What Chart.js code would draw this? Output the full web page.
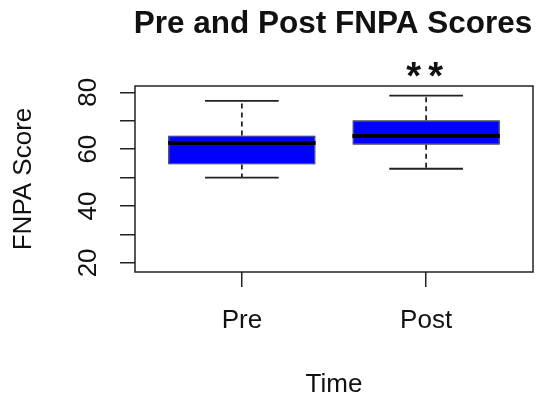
<!DOCTYPE html>
<html>
<head>
<meta charset="utf-8">
<script src="https://cdn.jsdelivr.net/npm/chart.js@4.4.1/dist/chart.umd.min.js"></script>
<style>
  html, body { margin: 0; padding: 0; background: #fff; }
</style>
</head>
<body>
<canvas id="boxChart" width="540" height="400"></canvas>
<script>
// values
const categories = ["Pre", "Post"];
const whiskerLow = [50.0, 53.1];
const lowerQuartile = [54.6, 61.5];
const medians = [62.2, 64.6];
const upperQuartile = [64.8, 70.2];
const whiskerHigh = [77.0, 78.8];
const yTickLabels = [20, 40, 60, 80];
const significance = ["", "**"];

const FONT = "'Liberation Sans', Arial, sans-serif";

// whiskers, caps, medians, frame, title and the ** mark
const boxParts = {
  id: "boxParts",
  afterDatasetsDraw(chart) {
    const { ctx, scales: { x, y } } = chart;
    ctx.save();
    categories.forEach((c, i) => {
      const pos = i + 1;
      const cx = x.getPixelForValue(pos);
      const capL = x.getPixelForValue(pos - 0.2);
      const capR = x.getPixelForValue(pos + 0.2);
      const boxL = x.getPixelForValue(pos - 0.4);
      const boxR = x.getPixelForValue(pos + 0.4);

      // dashed whiskers
      ctx.strokeStyle = "#222";
      ctx.lineWidth = 1.8;
      ctx.setLineDash([5, 4]);
      ctx.beginPath();
      ctx.moveTo(cx, y.getPixelForValue(upperQuartile[i]));
      ctx.lineTo(cx, y.getPixelForValue(whiskerHigh[i]));
      ctx.moveTo(cx, y.getPixelForValue(lowerQuartile[i]));
      ctx.lineTo(cx, y.getPixelForValue(whiskerLow[i]));
      ctx.stroke();

      // caps
      ctx.setLineDash([]);
      ctx.beginPath();
      ctx.moveTo(capL, y.getPixelForValue(whiskerHigh[i]));
      ctx.lineTo(capR, y.getPixelForValue(whiskerHigh[i]));
      ctx.moveTo(capL, y.getPixelForValue(whiskerLow[i]));
      ctx.lineTo(capR, y.getPixelForValue(whiskerLow[i]));
      ctx.stroke();

      // median
      ctx.strokeStyle = "#000";
      ctx.lineWidth = 4;
      ctx.beginPath();
      ctx.moveTo(boxL, y.getPixelForValue(medians[i]));
      ctx.lineTo(boxR, y.getPixelForValue(medians[i]));
      ctx.stroke();
    });
    ctx.restore();
  },
  afterDraw(chart) {
    const { ctx, chartArea: a, scales: { x } } = chart;
    ctx.save();
    ctx.strokeStyle = "#222";
    ctx.lineWidth = 1.5;
    ctx.strokeRect(a.left, a.top, a.right - a.left, a.bottom - a.top);

    ctx.fillStyle = "#111";
    ctx.textAlign = "center";
    ctx.textBaseline = "alphabetic";
    ctx.font = "bold 31.5px " + FONT;
    ctx.fillText("Pre and Post FNPA Scores", (a.left + a.right) / 2 - 1, 33);

    ctx.font = "bold 38px " + FONT;
    ctx.letterSpacing = "7px";
    significance.forEach((s, i) => {
      if (s) ctx.fillText(s, x.getPixelForValue(i + 1) + 2, 89);
    });
    ctx.restore();
  }
};

new Chart(document.getElementById("boxChart"), {
  type: "bar",
  data: {
    datasets: [{
      label: "FNPA Score",
      data: categories.map((c, i) => ({ x: i + 1, y: [lowerQuartile[i], upperQuartile[i]] })),
      backgroundColor: "#0000ff",
      borderColor: "#111",
      borderWidth: 1,
      borderSkipped: false,
      categoryPercentage: 0.8,
      barPercentage: 1
    }]
  },
  options: {
    responsive: false,
    animation: false,
    layout: { padding: { top: 86, right: 7, bottom: 0, left: 0 } },
    plugins: {
      legend: { display: false },
      tooltip: { enabled: false }
    },
    scales: {
      x: {
        type: "linear",
        min: 0.42,
        max: 2.58,
        offset: false,
        afterFit: s => { s.height = 128; },
        afterBuildTicks: s => { s.ticks = categories.map((c, i) => ({ value: i + 1 })); },
        border: { display: false },
        grid: { offset: false, drawOnChartArea: false, drawTicks: true, tickLength: 15, color: "#222", lineWidth: 1.5 },
        ticks: {
          autoSkip: false,
          padding: 18,
          color: "#111",
          font: { family: FONT, size: 26 },
          callback: v => categories[v - 1]
        },
        title: {
          display: true,
          text: "Time",
          color: "#111",
          font: { family: FONT, size: 26, lineHeight: 1.1 },
          padding: { top: 0, bottom: 1 }
        }
      },
      y: {
        min: 16.8,
        max: 82.2,
        afterFit: s => { s.width = 135; },
        border: { display: false },
        grid: { drawOnChartArea: false, drawTicks: true, tickLength: 15, color: "#222", lineWidth: 1.5 },
        ticks: {
          stepSize: 10,
          includeBounds: false,
          autoSkip: false,
          minRotation: 90,
          maxRotation: 90,
          crossAlign: "center",
          padding: 17,
          color: "#111",
          font: { family: FONT, size: 26 },
          callback: v => (yTickLabels.includes(v) ? String(v) : "")
        },
        title: {
          display: true,
          text: "FNPA Score",
          color: "#111",
          font: { family: FONT, size: 26, lineHeight: 1.1 },
          padding: { top: 10, bottom: 0 }
        }
      }
    }
  },
  plugins: [boxParts]
});
</script>
</body>
</html>
